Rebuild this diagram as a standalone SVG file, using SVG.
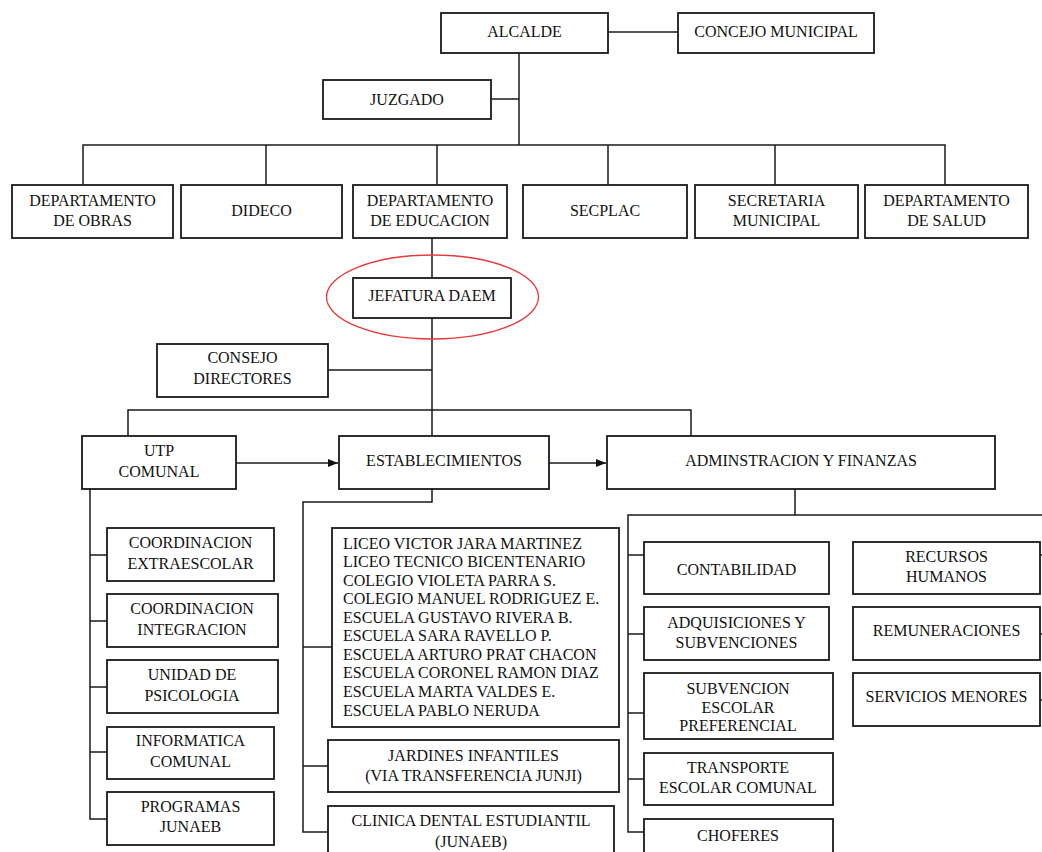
<svg xmlns="http://www.w3.org/2000/svg" width="1042" height="852" viewBox="0 0 1042 852">
<style>
.b{fill:#fff;stroke:#1a1a1a;stroke-width:1.8}
.c{fill:none;stroke:#1a1a1a;stroke-width:1.5}
text{font-family:"Liberation Serif","Times New Roman",serif;font-size:16px;fill:#111;text-anchor:middle}
.l{text-anchor:start}
</style>
<defs>
<marker id="ah" viewBox="0 0 10 8" refX="10" refY="4" markerWidth="10" markerHeight="8" markerUnits="userSpaceOnUse" orient="auto">
<path d="M0,0 L10,4 L0,8 z" fill="#111"/>
</marker>
</defs>
<rect width="1042" height="852" fill="#fff"/>
<g id="connectors">
<path class="c" d="M608,32 H678"/>
<path class="c" d="M519,53 V145"/>
<path class="c" d="M491,99 H519"/>
<path class="c" d="M83,185 V145 H945 V185"/>
<path class="c" d="M266,145 V185 M437,145 V185 M608,145 V185 M775,145 V185"/>
<path class="c" d="M432,238 V436"/>
<path class="c" d="M328,370 H432"/>
<path class="c" d="M128,436 V410 H691 V436"/>
<path class="c" d="M236,463 H338" marker-end="url(#ah)"/>
<path class="c" d="M549,463 H606" marker-end="url(#ah)"/>
<path class="c" d="M90,489 V819 H107 M90,555 H107 M90,621 H107 M90,687 H107 M90,752 H107"/>
<path class="c" d="M432,489 V502 H303 V832 H328 M303,647 H332 M303,766 H328"/>
<path class="c" d="M795,489 V515 M1045,515 H628 V832 H644 M628,555 H644 M628,634 H644 M628,713 H644 M628,779 H644"/>
<path class="c" d="M1040,555 H1045 M1040,634 H1045 M1040,700 H1045"/>
</g>
<g id="alcalde"><rect class="b" x="441" y="13" width="167" height="40"/><text x="524.5" y="37">ALCALDE</text></g>
<g id="concejo"><rect class="b" x="678" y="13" width="196" height="40"/><text x="776" y="37">CONCEJO MUNICIPAL</text></g>
<g id="juzgado"><rect class="b" x="323" y="80" width="168" height="39"/><text x="407" y="104.5">JUZGADO</text></g>
<g id="dep-obras"><rect class="b" x="12" y="185" width="161" height="53"/><text x="92.5" y="205.5">DEPARTAMENTO</text><text x="92.5" y="225.5">DE OBRAS</text></g>
<g id="dideco"><rect class="b" x="181" y="185" width="161" height="53"/><text x="261.5" y="215.5">DIDECO</text></g>
<g id="dep-educacion"><rect class="b" x="353" y="185" width="154" height="53"/><text x="430" y="205.5">DEPARTAMENTO</text><text x="430" y="225.5">DE EDUCACION</text></g>
<g id="secplac"><rect class="b" x="523" y="185" width="164" height="53"/><text x="605" y="215.5">SECPLAC</text></g>
<g id="secretaria"><rect class="b" x="695" y="185" width="163" height="53"/><text x="776.5" y="205.5">SECRETARIA</text><text x="776.5" y="225.5">MUNICIPAL</text></g>
<g id="dep-salud"><rect class="b" x="865" y="185" width="163" height="53"/><text x="946.5" y="205.5">DEPARTAMENTO</text><text x="946.5" y="225.5">DE SALUD</text></g>
<g id="jefatura"><ellipse cx="432.5" cy="297" rx="106" ry="42" fill="none" stroke="#e8383c" stroke-width="1.3"/><rect class="b" x="353" y="278" width="158" height="40"/><text x="432" y="300.5">JEFATURA DAEM</text></g>
<g id="consejo-directores"><rect class="b" x="157" y="344" width="171" height="53"/><text x="242.5" y="362.5">CONSEJO</text><text x="242.5" y="383.5">DIRECTORES</text></g>
<g id="utp"><rect class="b" x="82" y="436" width="154" height="53"/><text x="159" y="455.5">UTP</text><text x="159" y="476.5">COMUNAL</text></g>
<g id="establecimientos"><rect class="b" x="339" y="436" width="210" height="53"/><text x="444" y="465.5">ESTABLECIMIENTOS</text></g>
<g id="admin"><rect class="b" x="607" y="436" width="388" height="53"/><text x="801" y="465.5">ADMINSTRACION Y FINANZAS</text></g>
<g id="coord-extraescolar"><rect class="b" x="107" y="528" width="167" height="53"/><text x="190.5" y="548">COORDINACION</text><text x="190.5" y="569">EXTRAESCOLAR</text></g>
<g id="coord-integracion"><rect class="b" x="107" y="594" width="171" height="53"/><text x="192" y="613.5">COORDINACION</text><text x="192" y="634.5">INTEGRACION</text></g>
<g id="psicologia"><rect class="b" x="107" y="660" width="171" height="53"/><text x="192" y="679.5">UNIDAD DE</text><text x="192" y="700.5">PSICOLOGIA</text></g>
<g id="informatica"><rect class="b" x="107" y="727" width="167" height="52"/><text x="190.5" y="746">INFORMATICA</text><text x="190.5" y="766.5">COMUNAL</text></g>
<g id="junaeb"><rect class="b" x="107" y="792" width="167" height="53"/><text x="190.5" y="812">PROGRAMAS</text><text x="190.5" y="832">JUNAEB</text></g>
<g id="escuelas"><rect class="b" x="332" y="528" width="287" height="199"/>
<text class="l" x="343" y="548.5">LICEO VICTOR JARA MARTINEZ</text>
<text class="l" x="343" y="567">LICEO TECNICO BICENTENARIO</text>
<text class="l" x="343" y="585.6">COLEGIO VIOLETA PARRA S.</text>
<text class="l" x="343" y="604.2">COLEGIO MANUEL RODRIGUEZ E.</text>
<text class="l" x="343" y="622.7">ESCUELA GUSTAVO RIVERA B.</text>
<text class="l" x="343" y="641.3">ESCUELA SARA RAVELLO P.</text>
<text class="l" x="343" y="659.8">ESCUELA ARTURO PRAT CHACON</text>
<text class="l" x="343" y="678.4">ESCUELA CORONEL RAMON DIAZ</text>
<text class="l" x="343" y="697">ESCUELA MARTA VALDES E.</text>
<text class="l" x="343" y="715.5">ESCUELA PABLO NERUDA</text></g>
<g id="jardines"><rect class="b" x="328" y="740" width="291" height="52"/><text x="473.5" y="760.5">JARDINES INFANTILES</text><text x="473.5" y="780.5">(VIA TRANSFERENCIA JUNJI)</text></g>
<g id="clinica"><rect class="b" x="328" y="806" width="286" height="60"/><text x="471" y="825.5">CLINICA DENTAL ESTUDIANTIL</text><text x="471" y="847">(JUNAEB)</text></g>
<g id="contabilidad"><rect class="b" x="644" y="542" width="185" height="52"/><text x="736.5" y="574.8">CONTABILIDAD</text></g>
<g id="adquisiciones"><rect class="b" x="644" y="607" width="185" height="53"/><text x="736.5" y="628">ADQUISICIONES Y</text><text x="736.5" y="648">SUBVENCIONES</text></g>
<g id="sep"><rect class="b" x="644" y="673" width="189" height="66"/><text x="738" y="693.8">SUBVENCION</text><text x="738" y="713">ESCOLAR</text><text x="738" y="730.5">PREFERENCIAL</text></g>
<g id="transporte"><rect class="b" x="644" y="753" width="189" height="52"/><text x="738" y="772.8">TRANSPORTE</text><text x="738" y="792.8">ESCOLAR COMUNAL</text></g>
<g id="choferes"><rect class="b" x="644" y="819" width="189" height="50"/><text x="738" y="841">CHOFERES</text></g>
<g id="rrhh"><rect class="b" x="853" y="542" width="187" height="52"/><text x="946.5" y="561.5">RECURSOS</text><text x="946.5" y="582">HUMANOS</text></g>
<g id="remuneraciones"><rect class="b" x="853" y="607" width="187" height="53"/><text x="946.5" y="636">REMUNERACIONES</text></g>
<g id="servicios"><rect class="b" x="853" y="673" width="187" height="53"/><text x="946.5" y="702">SERVICIOS MENORES</text></g>
</svg>
